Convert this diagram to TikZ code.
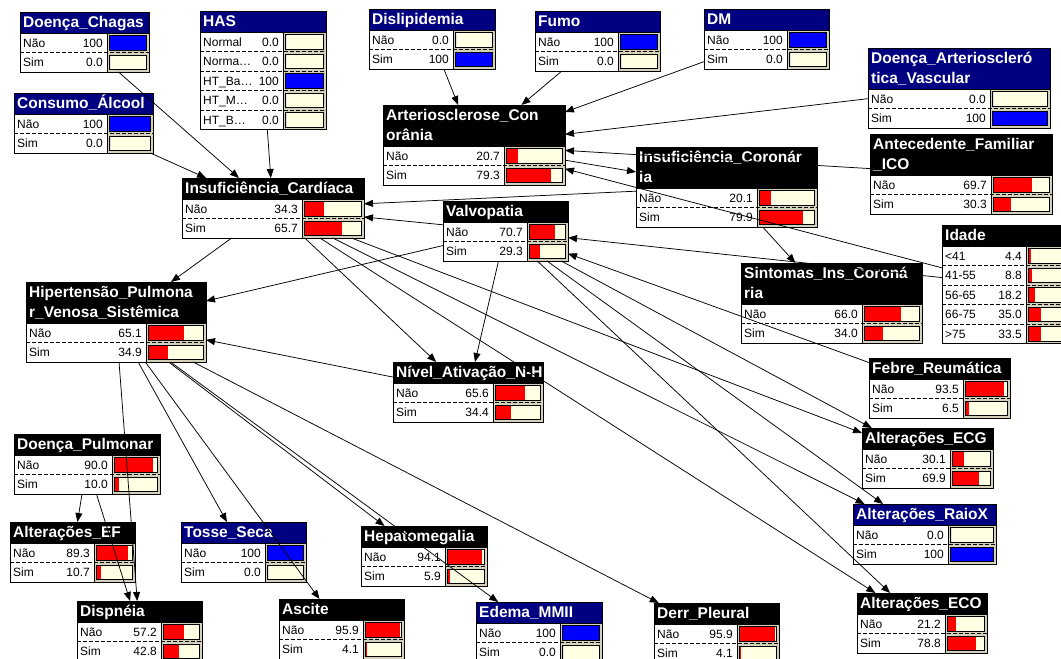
\documentclass[tikz,border=0pt]{standalone}
\usepackage{fontspec}
\setmainfont{Liberation Sans}
\usetikzlibrary{arrows.meta}

\definecolor{obshead}{RGB}{0,0,128}
\definecolor{obsbar}{RGB}{0,0,255}
\definecolor{calchead}{RGB}{0,0,0}
\definecolor{calcbar}{RGB}{255,0,0}
\definecolor{barbg}{RGB}{212,208,186}
\definecolor{barcream}{RGB}{255,255,228}

\newcommand\hdrfont{\fontsize{15.5}{20}\selectfont\bfseries}
\newcommand\rowfont{\fontsize{12}{14}\selectfont}

\tikzset{
  link/.style={draw=black, line width=0.75pt, -{Triangle[length=9pt,width=7pt]}},
  hdrtext/.style={anchor=base west, inner sep=0pt, text=white, font=\hdrfont},
  rowlabel/.style={anchor=base west, inner sep=0pt, font=\rowfont},
  rowvalue/.style={anchor=base east, inner sep=0pt, font=\rowfont},
  rowsep/.style={line width=0.8pt, dash pattern=on 3.5pt off 2.5pt},
  boxline/.style={line width=0.9pt, draw=black},
  barframe/.style={line width=0.8pt, draw=black, fill=barcream},
}

% belief-bar node: name, left, top, right, bar column x, kind (obs/calc),
% header lines, number of header lines, rows as label/value/fraction
\newcommand\bnnode[9]{%
  \pgfmathsetmacro\bnhh{20*#8+1}%
  \gdef\bnrows{0}%
  \foreach \r in {#9} {\pgfmathtruncatemacro\bntmp{\bnrows+1}\global\let\bnrows\bntmp}%
  \pgfmathsetmacro\bnbh{\bnhh+19.5*\bnrows}%
  \pgfmathsetmacro\bnbw{#4-#2}%
  \fill[white] (#2,#3) rectangle (#4,{#3+\bnbh});
  \fill[#6head] (#2,#3) rectangle (#4,{#3+\bnhh});
  \fill[barbg] (#5,{#3+\bnhh}) rectangle (#4,{#3+\bnbh});
  \foreach \h [count=\k] in {#7} {\node[hdrtext] at ({#2+3},{#3+15.5+20*(\k-1)}) {\h};}
  \foreach \lab/\val/\fr [count=\k] in {#9} {
    \pgfmathsetmacro\rt{#3+\bnhh+19.5*(\k-1)}
    \pgfmathsetmacro\rb{\rt+19.5}
    \node[rowlabel] at ({#2+3},{\rt+14}) {\lab};
    \node[rowvalue] at ({#5-4},{\rt+14}) {\val};
    \draw[barframe] ({#5+2.5},{\rt+2.5}) rectangle ({#4-2.5},{\rb-2.5});
    \fill[#6bar] ({#5+3},{\rt+3}) rectangle ({#5+3+\fr*(#4-#5-6)},{\rb-3});
    \ifnum\k>1 \draw[rowsep] (#2,\rt) -- (#4,\rt); \fi
  }
  \draw[boxline] (#5,{#3+\bnhh}) -- (#5,{#3+\bnbh});
  \draw[boxline] (#2,{#3+\bnhh}) -- (#4,{#3+\bnhh});
  \draw[boxline] (#2,#3) rectangle (#4,{#3+\bnbh});
  \node[inner sep=0pt, outer sep=0pt, minimum width=\bnbw pt, minimum height=\bnbh pt,
        anchor=north west] (#1) at (#2,#3) {};
}

\begin{document}
\begin{tikzpicture}[x=1pt, y=-1pt]
\useasboundingbox (0,0) rectangle (1061,659);
\clip (0,0) rectangle (1061,659);
\fill[white] (0,0) rectangle (1061,659);

% observed inputs
\bnnode{chagas}{20}{12}{149}{107}{obs}{Doença\_Chagas}{1}{Não/100/1,Sim/0.0/0}
\bnnode{has}{200}{11}{326}{283}{obs}{HAS}{1}{Normal/0.0/0,Norma\ldots/0.0/0,HT\_Ba\ldots/100/1,HT\_M\ldots/0.0/0,HT\_B\ldots/0.0/0}
\bnnode{alcool}{14}{93}{153}{107}{obs}{Consumo\_Álcool}{1}{Não/100/1,Sim/0.0/0}
\bnnode{dislip}{369}{9}{495}{453}{obs}{Dislipidemia}{1}{Não/0.0/0,Sim/100/1}
\bnnode{fumo}{535}{11}{660}{618}{obs}{Fumo}{1}{Não/100/1,Sim/0.0/0}
\bnnode{dm}{704}{9}{829}{787}{obs}{DM}{1}{Não/100/1,Sim/0.0/0}
\bnnode{dav}{868}{48}{1050}{990}{obs}{Doença\_Arterioscleró,tica\_Vascular}{2}{Não/0.0/0,Sim/100/1}

% inferred nodes
\bnnode{art}{383}{105}{565}{504}{calc}{Arteriosclerose\_Con,orânia}{2}{Não/20.7/0.207,Sim/79.3/0.793}
\bnnode{afi}{870}{134}{1052}{991}{calc}{Antecedente\_Familiar,\_ICO}{2}{Não/69.7/0.697,Sim/30.3/0.303}
\bnnode{icor}{636}{147}{817}{757}{calc}{Insuficiência\_Coronár,ia}{2}{Não/20.1/0.201,Sim/79.9/0.799}
\bnnode{icard}{182}{178}{364}{302}{calc}{Insuficiência\_Cardíaca}{1}{Não/34.3/0.343,Sim/65.7/0.657}
\bnnode{valv}{443}{201}{568}{527}{calc}{Valvopatia}{1}{Não/70.7/0.707,Sim/29.3/0.293}
\bnnode{idade}{942}{225}{1067}{1026}{calc}{Idade}{1}{<41/4.4/0.044,41-55/8.8/0.088,56-65/18.2/0.182,66-75/35.0/0.35,>75/33.5/0.335}
\bnnode{sint}{741}{263}{922}{862}{calc}{Sintomas\_Ins\_Coroná,ria}{2}{Não/66.0/0.66,Sim/34.0/0.34}
\bnnode{hip}{26}{282}{206}{146}{calc}{Hipertensão\_Pulmona,r\_Venosa\_Sistêmica}{2}{Não/65.1/0.651,Sim/34.9/0.349}
\bnnode{febre}{869}{358}{1010}{963}{calc}{Febre\_Reumática}{1}{Não/93.5/0.935,Sim/6.5/0.065}
\bnnode{nivel}{393}{362}{543}{493}{calc}{Nível\_Ativação\_N-H}{1}{Não/65.6/0.656,Sim/34.4/0.344}
\bnnode{ecg}{862}{428}{993}{950}{calc}{Alterações\_ECG}{1}{Não/30.1/0.301,Sim/69.9/0.699}
\bnnode{dpulm}{14}{434}{160}{112}{calc}{Doença\_Pulmonar}{1}{Não/90.0/0.9,Sim/10.0/0.1}
\bnnode{raiox}{853}{504}{996}{948}{obs}{Alterações\_RaioX}{1}{Não/0.0/0,Sim/100/1}
\bnnode{ef}{10}{522}{135}{94}{calc}{Alterações\_EF}{1}{Não/89.3/0.893,Sim/10.7/0.107}
\bnnode{tosse}{181}{522}{306}{265}{obs}{Tosse\_Seca}{1}{Não/100/1,Sim/0.0/0}
\bnnode{hepato}{361}{526}{487}{445}{calc}{Hepatomegalia}{1}{Não/94.1/0.941,Sim/5.9/0.059}
\bnnode{eco}{857}{593}{987}{945}{calc}{Alterações\_ECO}{1}{Não/21.2/0.212,Sim/78.8/0.788}
\bnnode{disp}{77}{601}{202}{161}{calc}{Dispnéia}{1}{Não/57.2/0.572,Sim/42.8/0.428}
\bnnode{ascite}{279}{599}{404}{363}{calc}{Ascite}{1}{Não/95.9/0.959,Sim/4.1/0.041}
\bnnode{edema}{476}{602}{602}{560}{obs}{Edema\_MMII}{1}{Não/100/1,Sim/0.0/0}
\bnnode{derr}{654}{603}{779}{737}{calc}{Derr\_Pleural}{1}{Não/95.9/0.959,Sim/4.1/0.041}

% links (drawn centre to centre, over the boxes they cross)
\draw[link] (chagas) -- (icard);
\draw[link] (alcool) -- (icard);
\draw[link] (has) -- (icard);
\draw[link] (icor) -- (icard);
\draw[link] (valv) -- (icard);
\draw[link] (dislip) -- (art);
\draw[link] (fumo) -- (art);
\draw[link] (dm) -- (art);
\draw[link] (dav) -- (art);
\draw[link] (afi) -- (art);
\draw[link] (idade) -- (art);
\draw[link] (art) -- (icor);
\draw[link] (icor) -- (sint);
\draw[link] (icard) -- (hip);
\draw[link] (valv) -- (hip);
\draw[link] (nivel) -- (hip);
\draw[link] (icard) -- (nivel);
\draw[link] (valv) -- (nivel);
\draw[link] (idade) -- (valv);
\draw[link] (febre) -- (valv);
\draw[link] (icard) -- (ecg);
\draw[link] (icard) -- (raiox);
\draw[link] (icard) -- (eco);
\draw[link] (valv) -- (ecg);
\draw[link] (valv) -- (raiox);
\draw[link] (valv) -- (eco);
\draw[link] (hip) -- (disp);
\draw[link] (dpulm) -- (disp);
\draw[link] (dpulm) -- (ef);
\draw[link] (hip) -- (tosse);
\draw[link] (hip) -- (ascite);
\draw[link] (hip) -- (hepato);
\draw[link] (hip) -- (edema);
\draw[link] (hip) -- (derr);
\end{tikzpicture}
\end{document}
